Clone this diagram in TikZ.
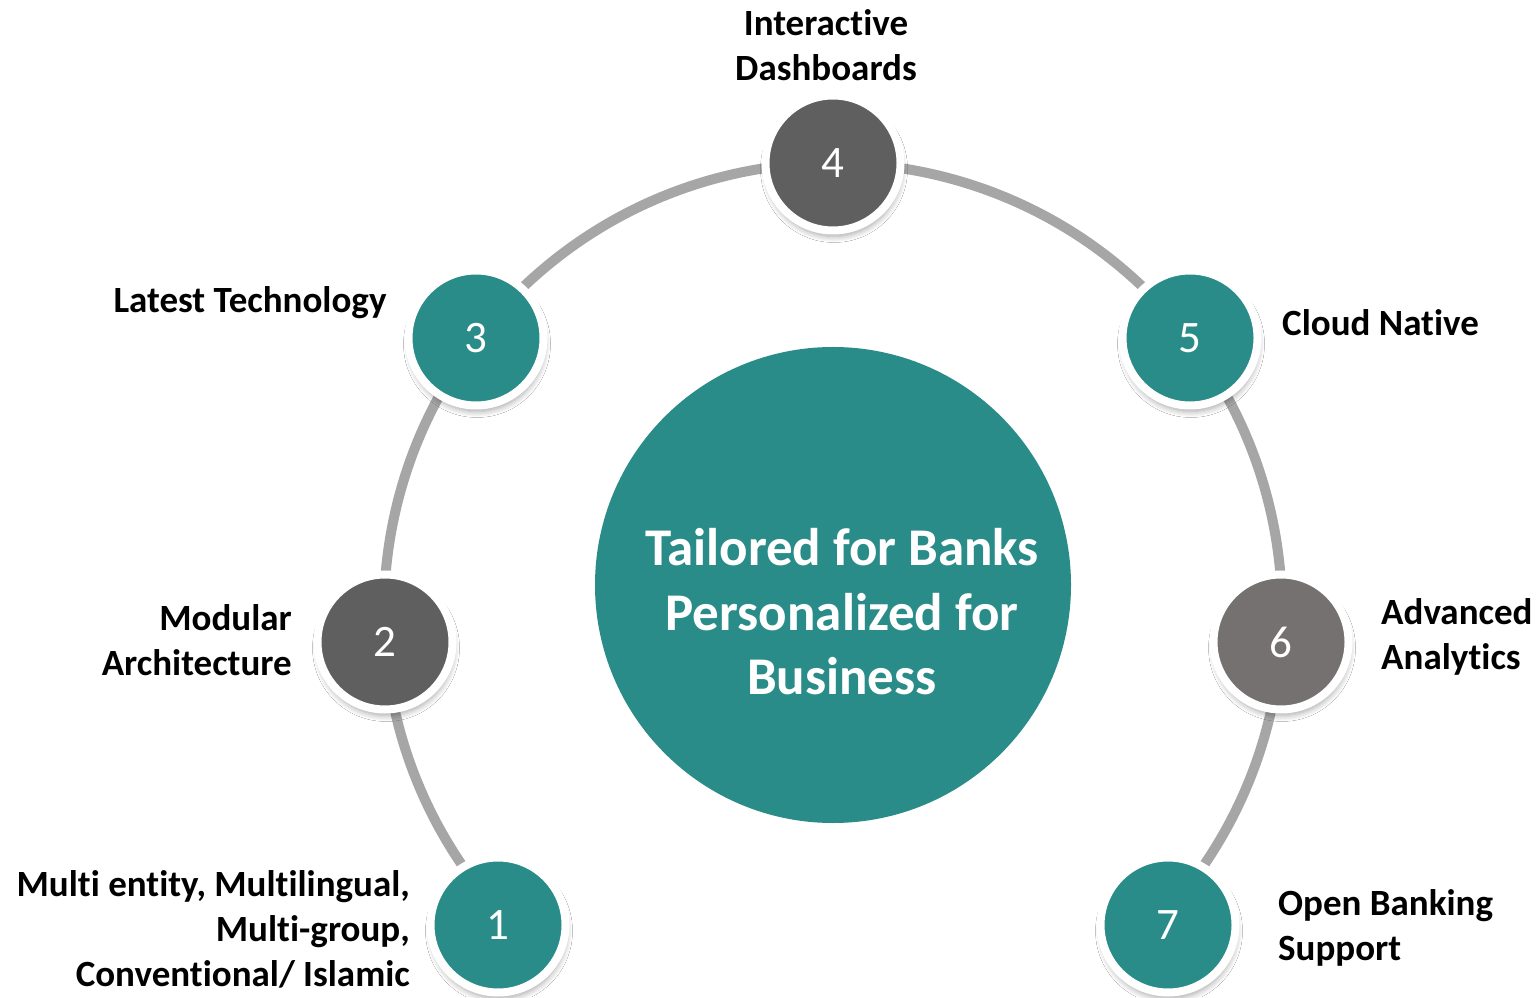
\documentclass[tikz,border=0pt]{standalone}
\usepackage{fontspec}
\setmainfont{Carlito}[Ligatures={NoCommon}]
\usetikzlibrary{shadows.blur}
\definecolor{teal1}{HTML}{2A8C88}
\definecolor{dgray}{HTML}{5F5F5F}
\definecolor{wgray}{HTML}{767171}
\definecolor{arcgray}{HTML}{A6A6A6}
\begin{document}
\begin{tikzpicture}[x=1pt,y=1pt,
  numnode/.style={circle, draw=white, line width=8pt, minimum size=135pt, inner sep=0pt,
    text=white, font=\fontsize{45}{50}\selectfont,
    blur shadow={shadow xshift=1pt, shadow yshift=-6pt, shadow blur steps=8, shadow blur radius=6pt, shadow opacity=35}},
  lbl/.style={inner sep=0pt, font=\bfseries\fontsize{37}{45}\selectfont, text=black}
]
\useasboundingbox (0,0) rectangle (1536,997);
\fill[white] (0,0) rectangle (1536,997);
\coordinate (arcc) at (833,385);
\draw[arcgray, line width=10pt] (arcc) ++(223:449) arc[start angle=223, end angle=-43, radius=449];
\node[circle, fill=teal1, minimum size=476pt, inner sep=0pt] (hub) at (833,412) {};
\node[text=white, align=center, font=\bfseries\fontsize{53}{64.5}\selectfont] (hubtext) at (842,385) {Tailored for Banks\\Personalized for\\Business};
\node[numnode, fill=teal1] (n1) at (498,72) {1};
\node[numnode, fill=dgray] (n2) at (385,355) {2};
\node[numnode, fill=teal1] (n3) at (476,659) {3};
\node[numnode, fill=dgray] (n4) at (833,834) {4};
\node[numnode, fill=teal1] (n5) at (1190,659) {5};
\node[numnode, fill=wgray] (n6) at (1281,355) {6};
\node[numnode, fill=teal1] (n7) at (1168,72) {7};
\node[lbl, align=center] (l4) at (826,952) {Interactive\\Dashboards};
\node[lbl] (l3) at (250,694) {Latest Technology};
\node[lbl, anchor=west] (l5) at (1282,674) {Cloud Native};
\node[lbl, align=right, anchor=east] (l2) at (292,357) {Modular\\Architecture};
\node[lbl, align=left, anchor=west] (l6) at (1381,360) {Advanced\\Analytics};
\node[lbl, align=right, anchor=east] (l1) at (410,68) {Multi entity, Multilingual,\\Multi-group,\\Conventional/ Islamic};
\node[lbl, align=left, anchor=west] (l7) at (1278,69) {Open Banking\\Support};
\end{tikzpicture}
\end{document}
